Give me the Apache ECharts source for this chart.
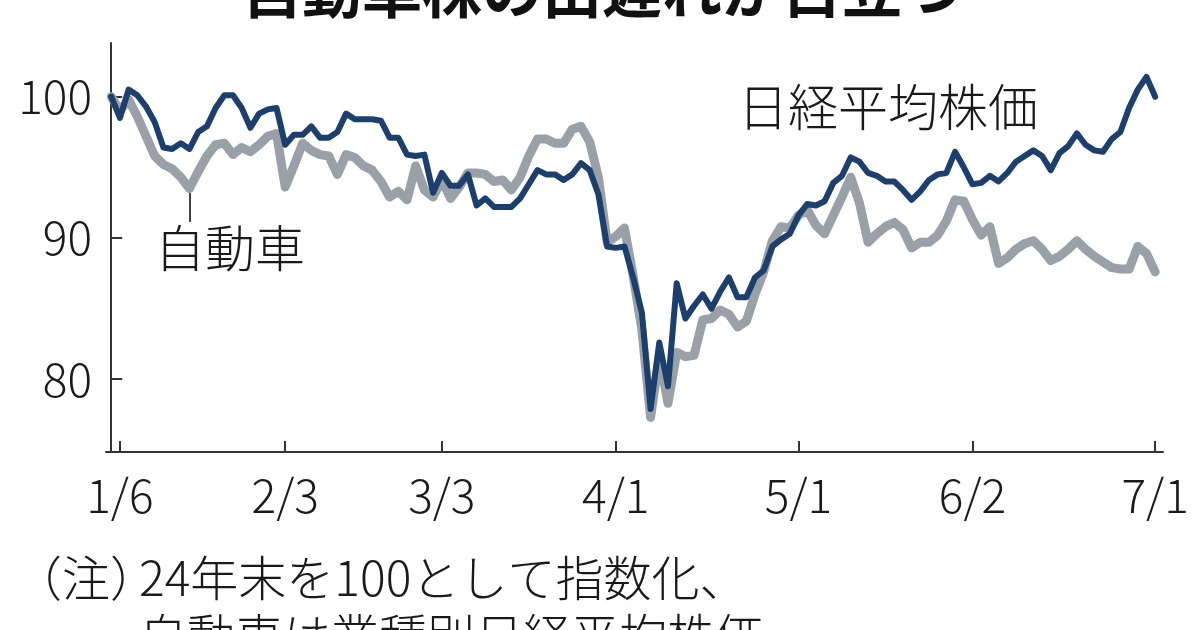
<!DOCTYPE html>
<html>
<head>
<meta charset="utf-8">
<script src="https://cdn.jsdelivr.net/npm/echarts@6/dist/echarts.min.js"></script>
<style>
html,body{margin:0;padding:0;background:#fff;}
#chart{width:1200px;height:630px;}
</style>
</head>
<body>
<div id="chart"></div>
<script>
// Trading days (first point = end of 2024, index 100)
const dates = [
  '12/30',
  '1/6','1/7','1/8','1/9','1/10','1/14','1/15','1/16','1/17','1/20','1/21','1/22','1/23','1/24','1/27','1/28','1/29','1/30','1/31',
  '2/3','2/4','2/5','2/6','2/7','2/10','2/12','2/13','2/14','2/17','2/18','2/19','2/20','2/21','2/25','2/26','2/27','2/28',
  '3/3','3/4','3/5','3/6','3/7','3/10','3/11','3/12','3/13','3/14','3/17','3/18','3/19','3/21','3/24','3/25','3/26','3/27','3/28','3/31',
  '4/1','4/2','4/3','4/4','4/7','4/8','4/9','4/10','4/11','4/14','4/15','4/16','4/17','4/18','4/21','4/22','4/23','4/24','4/25','4/28','4/30',
  '5/1','5/2','5/7','5/8','5/9','5/12','5/13','5/14','5/15','5/16','5/19','5/20','5/21','5/22','5/23','5/26','5/27','5/28','5/29','5/30',
  '6/2','6/3','6/4','6/5','6/6','6/9','6/10','6/11','6/12','6/13','6/16','6/17','6/18','6/19','6/20','6/23','6/24','6/25','6/26','6/27','6/30',
  '7/1'
];

// 日経平均株価 (index, end of 2024 = 100)
const nikkei = [
  100,
  98.5,100.5,100.1,99.3,98.2,96.4,96.3,96.7,96.3,97.5,97.9,99.2,100.1,100.1,99.2,97.8,98.8,99.1,99.2,
  96.6,97.3,97.3,97.9,97.1,97.1,97.5,98.8,98.4,98.4,98.4,98.3,97.1,97.1,95.9,95.8,95.9,93.2,
  94.6,93.7,93.7,94.5,92.3,92.8,92.2,92.2,92.2,92.8,93.8,94.8,94.5,94.5,94.1,94.5,95.3,94.8,93.1,89.4,
  89.3,89.4,87.2,84.7,77.9,82.6,79.5,86.8,84.3,85.2,86.0,85.0,86.2,87.2,85.8,85.8,87.2,87.7,89.4,89.9,90.3,
  91.6,92.4,92.3,92.6,93.9,94.4,95.7,95.4,94.6,94.4,94.0,94.0,93.4,92.7,93.3,94.1,94.5,94.6,96.1,95.0,
  93.8,93.9,94.4,94.0,94.6,95.4,95.8,96.2,95.8,94.8,96.0,96.5,97.4,96.6,96.2,96.1,97.0,97.5,99.2,100.5,101.4,
  100.0
];

// 自動車 (業種別日経平均株価, end of 2024 = 100)
const autos = [
  100,
  99.0,99.8,98.6,97.2,95.8,95.2,94.9,94.3,93.5,94.7,95.8,96.6,96.7,95.9,96.4,96.1,96.6,97.2,97.4,
  93.6,95.1,96.7,96.2,95.9,95.8,94.5,95.9,95.7,95.1,94.8,94.0,92.9,93.3,92.7,95.1,93.4,92.9,
  94.1,92.8,93.6,94.6,94.6,94.5,94.0,94.1,93.4,94.3,95.8,97.0,97.0,96.7,96.7,97.7,97.9,96.8,94.3,89.7,
  90.1,90.7,87.3,83.5,77.3,81.6,78.3,81.9,81.6,81.7,84.2,84.3,84.9,84.6,83.7,84.1,86.0,87.6,89.8,90.8,90.7,
  91.6,92.0,90.9,90.3,91.6,92.9,94.3,92.5,89.7,90.3,90.8,91.1,90.6,89.3,89.7,89.7,90.2,91.2,92.7,92.6,
  91.3,90.2,90.8,88.2,88.6,89.2,89.6,89.8,89.2,88.4,88.7,89.2,89.8,89.2,88.7,88.3,87.9,87.8,87.8,89.4,88.9,
  87.6
];

const xTickLabels = ['1/6','2/3','3/3','4/1','5/1','6/2','7/1'];
const yTickValues = [80, 90, 100];

const xTickIdx = xTickLabels.map(d => dates.indexOf(d));
const NUM_FONT = "'Noto Sans CJK JP','Noto Sans',sans-serif";
const JP_FONT = "'Noto Sans CJK JP','Noto Sans',sans-serif";

const chart = echarts.init(document.getElementById('chart'), null, {renderer: 'canvas'});
const axisColor = '#333';

chart.setOption({
  animation: false,
  backgroundColor: '#ffffff',
  grid: {left: 106, right: 37, top: 43, bottom: 178},
  xAxis: {
    type: 'value',
    min: -0.6,
    max: 120.9,
    axisLine: {onZero: false, lineStyle: {color: axisColor, width: 2}},
    axisTick: {show: true, inside: true, length: 11, customValues: xTickIdx, lineStyle: {color: axisColor, width: 2}},
    axisLabel: {
      customValues: xTickIdx,
      formatter: v => dates[Math.round(v)],
      fontSize: 46, fontWeight: 300, fontFamily: NUM_FONT, color: '#1a1a1a', margin: 21
    },
    splitLine: {show: false}
  },
  yAxis: {
    type: 'value',
    min: 74.85,
    max: 103.8,
    axisLine: {show: true, lineStyle: {color: axisColor, width: 2}},
    axisTick: {show: true, inside: true, length: 11, customValues: yTickValues, lineStyle: {color: axisColor, width: 2}},
    axisLabel: {customValues: yTickValues, fontSize: 46, fontWeight: 300, fontFamily: NUM_FONT, color: '#1a1a1a', margin: 14},
    splitLine: {show: false}
  },
  series: [
    {
      name: '自動車', type: 'line', symbol: 'none', z: 2,
      data: autos.map((v, i) => [i, v]),
      lineStyle: {color: '#9aa0a8', width: 9, join: 'round', cap: 'round'}
    },
    {
      name: '日経平均株価', type: 'line', symbol: 'none', z: 3,
      data: nikkei.map((v, i) => [i, v]),
      lineStyle: {color: '#1c3f6e', width: 6, join: 'round', cap: 'round'}
    }
  ],
  graphic: [
    {type: 'text', x: 602, y: -10, z: 10, style: {text: '自動車株の出遅れが目立つ', font: 'bold 60px ' + JP_FONT, fill: '#111', align: 'center', verticalAlign: 'middle'}},
    {type: 'text', x: 888, y: 107, z: 10, style: {text: '日経平均株価', font: '300 50px ' + JP_FONT, fill: '#1a1a1a', align: 'center', verticalAlign: 'middle'}},
    {type: 'text', x: 230, y: 248, z: 10, style: {text: '自動車', font: '300 50px ' + JP_FONT, fill: '#1a1a1a', align: 'center', verticalAlign: 'middle'}},
    {type: 'line', z: 10, shape: {x1: 190, y1: 193, x2: 190, y2: 222}, style: {stroke: '#444', lineWidth: 2}},
    {type: 'text', x: 14, y: 578, z: 10, style: {text: '（注）', font: '300 48px ' + JP_FONT, fill: '#1a1a1a', align: 'left', verticalAlign: 'middle'}},
    {type: 'text', x: 139, y: 578, z: 10, style: {text: '24年末を100として指数化、', font: '300 48px ' + JP_FONT, fill: '#1a1a1a', align: 'left', verticalAlign: 'middle'}},
    {type: 'text', x: 139, y: 636, z: 10, style: {text: '自動車は業種別日経平均株価', font: '300 48px ' + JP_FONT, fill: '#1a1a1a', align: 'left', verticalAlign: 'middle'}}
  ]
});
</script>
</body>
</html>
